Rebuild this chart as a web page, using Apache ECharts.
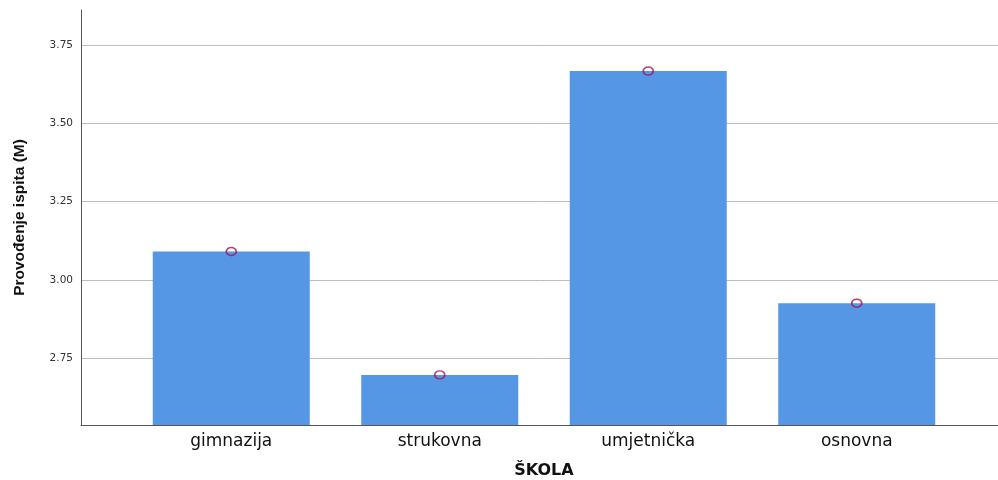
<!DOCTYPE html>
<html>
<head>
<meta charset="utf-8">
<script src="https://cdn.jsdelivr.net/npm/echarts@6/dist/echarts.min.js"></script>
<style>html,body{margin:0;padding:0;background:#fff}#c{width:998px;height:480px}</style>
</head>
<body>
<div id="c"></div>
<script>
const categories = ['gimnazija', 'strukovna', 'umjetnička', 'osnovna'];
const means = [3.091, 2.697, 3.667, 2.926];
const yTicks = [2.75, 3.00, 3.25, 3.50, 3.75];
const yMin = 2.537, yMax = 3.862;

const chart = echarts.init(document.getElementById('c'));
const font = '"Liberation Sans", Arial, sans-serif';
const wide = '"DejaVu Sans", sans-serif';
chart.setOption({
  animation: false,
  grid: [
    {left: 81, right: 0, top: 10, bottom: 55, outerBoundsMode: 'none', containLabel: false},
    {left: 127, right: 37, top: 10, bottom: 55, outerBoundsMode: 'none', containLabel: false}
  ],
  xAxis: [
    {gridIndex: 0, type: 'value', min: 0, max: 1,
     axisLine: {show: true, lineStyle: {color: '#555', width: 1}},
     axisTick: {show: false}, axisLabel: {show: false}, splitLine: {show: false}},
    {gridIndex: 1, type: 'category', data: categories,
     axisLine: {show: false}, axisTick: {show: false},
     axisLabel: {fontSize: 17, color: '#111', margin: 8, fontFamily: wide},
     name: 'ŠKOLA', nameLocation: 'middle', nameGap: 38,
     nameTextStyle: {fontSize: 16, fontWeight: 'bold', color: '#111', fontFamily: wide}}
  ],
  yAxis: [
    {gridIndex: 0, type: 'value', min: yMin, max: yMax,
     axisLine: {show: true, lineStyle: {color: '#555', width: 1}},
     axisTick: {show: false, customValues: yTicks},
     axisLabel: {customValues: yTicks, fontSize: 10.5, color: '#333', margin: 8, fontFamily: wide,
       formatter: v => v.toFixed(2)},
     splitLine: {show: true, lineStyle: {color: '#bdbdbd', width: 1}},
     name: 'Provođenje ispita (M)', nameLocation: 'middle', nameGap: 53,
     nameTextStyle: {fontSize: 15.5, fontWeight: 'bold', color: '#111', fontFamily: font}},
    {gridIndex: 1, type: 'value', min: yMin, max: yMax, show: false, splitLine: {show: false}}
  ],
  series: [
    {type: 'bar', xAxisIndex: 1, yAxisIndex: 1, data: means, barCategoryGap: '24.7%',
     itemStyle: {color: '#5596e5'}},
    {type: 'scatter', xAxisIndex: 1, yAxisIndex: 1, data: means, symbol: 'circle', symbolSize: [10, 8],
     itemStyle: {color: 'rgba(0,0,0,0)', borderColor: '#a3134f', borderWidth: 1.6}, z: 3}
  ]
});
</script>
</body>
</html>
